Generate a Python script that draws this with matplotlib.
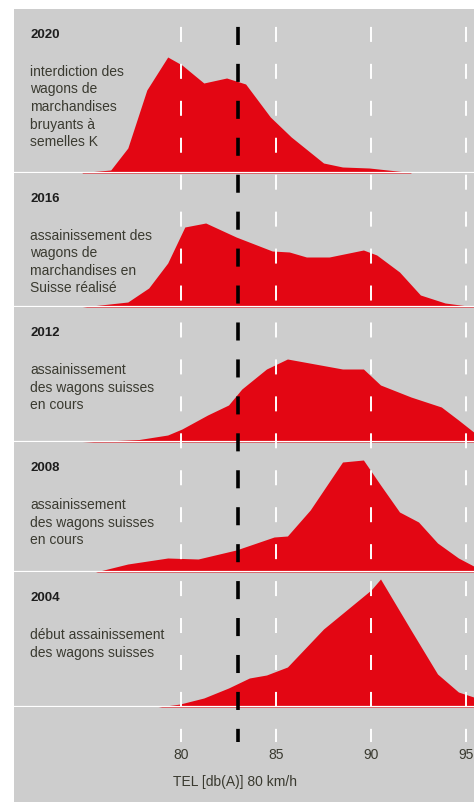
import numpy as np
import matplotlib.pyplot as plt

plt.rcParams['font.family'] = ['Liberation Sans', 'DejaVu Sans']
plt.rcParams['lines.scale_dashes'] = False

# distributions of TEL values per year (x in dB(A), y = relative share)
years = ['2020', '2016', '2012', '2008', '2004']
descriptions = [
    ['interdiction des', 'wagons de', 'marchandises', 'bruyants à', 'semelles K'],
    ['assainissement des', 'wagons de', 'marchandises en', 'Suisse réalisé'],
    ['assainissement', 'des wagons suisses', 'en cours'],
    ['assainissement', 'des wagons suisses', 'en cours'],
    ['début assainissement', 'des wagons suisses'],
]

tel_2020 = [74.8, 76.3, 77.2, 78.2, 79.3, 80.05, 81.2, 82.4, 83.4, 84.7, 85.8, 87.5, 88.5, 89.9, 92.1]
share_2020 = [0.5, 3, 25, 83, 116, 108, 90, 95, 89, 56, 36, 10, 6, 5, 0.5]

tel_2016 = [74.8, 77.2, 78.3, 79.3, 80.2, 81.3, 82.9, 84.8, 85.7, 86.6, 87.8, 89.6, 90.3, 91.5, 92.6, 93.9, 95.1, 95.4]
share_2016 = [0, 5, 19, 44, 80, 84, 70, 56, 55, 50, 50, 57, 52, 35, 12, 4, 1, 0.5]

tel_2012 = [74.8, 77.8, 79.3, 80.05, 81.4, 82.5, 83.2, 84.5, 85.6, 88.5, 89.6, 90.5, 92.1, 93.7, 94.6, 95.4]
share_2012 = [0, 2.5, 7, 13, 27, 37, 53, 73, 83, 73, 73, 57, 45, 35, 22, 10]

tel_2008 = [75.5, 77.2, 79.3, 80.9, 82.9, 84.9, 85.6, 86.8, 88.5, 89.6, 90.5, 91.5, 92.5, 93.5, 94.6, 95.4]
share_2008 = [0, 8, 14, 13, 22, 35, 36, 62, 110, 112, 87, 60, 50, 29, 14, 6]

tel_2004 = [78.8, 79.95, 81.2, 82.5, 83.6, 84.5, 85.6, 87.5, 90.0, 90.5, 92.1, 93.5, 94.6, 95.4]
share_2004 = [0, 3, 9, 19, 29, 32, 40, 78, 117, 128, 77, 33, 15, 10]

tel = [tel_2020, tel_2016, tel_2012, tel_2008, tel_2004]
share = [share_2020, share_2016, share_2012, share_2008, share_2004]

grid_ticks = [80, 85, 90, 95]
limit = 83

W, H = 474, 802
red = '#e30613'
grey = '#cdcdcd'
txt = '#3a3a30'
xlim = (71.21, 95.42)

# panel edges in pixels (top, bottom)
edges = [(9, 173), (173, 307), (307, 442), (442, 572), (572, 707)]


def px_box(left, top, right, bottom):
    return [left / W, 1 - bottom / H, (right - left) / W, (bottom - top) / H]


fig = plt.figure(figsize=(W / 100, H / 100), dpi=100)

bg = fig.add_axes(px_box(14, 9, W, H))
bg.set_facecolor(grey)
bg.set_xticks([])
bg.set_yticks([])
for s in bg.spines.values():
    s.set_visible(False)

for i, (top, bottom) in enumerate(edges):
    ax = fig.add_axes(px_box(14, top, W, bottom))
    ax.patch.set_alpha(0)
    ax.fill_between(tel[i], share[i], 0, color=red, linewidth=0)
    ax.axhline(0, color='white', lw=1.6)
    ax.set_xlim(*xlim)
    ax.set_ylim(0, bottom - top)
    ax.axis('off')

    fig.text(30 / W, 1 - (top + 26) / H, years[i], fontsize=9.5, fontweight='bold',
             color='#1e1e1e', va='center', ha='left')
    for j, line in enumerate(descriptions[i]):
        fig.text(30 / W, 1 - (top + 63 + 17.5 * j) / H, line, fontsize=10,
                 color=txt, va='center', ha='left')

# vertical reference lines over all panels
ov = fig.add_axes(px_box(14, 9, W, 742))
ov.patch.set_alpha(0)
ov.set_xlim(*xlim)
ov.set_ylim(0, 1)
ov.axis('off')
for t in grid_ticks:
    ov.plot([t, t], [1, 0], color='white', lw=1.4, linestyle=(13.7, (10.8, 15.8)))
ov.plot([limit, limit], [1, 0], color='black', lw=2.6, linestyle=(13.7, (13.0, 13.6)))

# x axis labels
axb = fig.add_axes(px_box(14, 707, W, H))
axb.patch.set_alpha(0)
axb.set_xlim(*xlim)
axb.set_ylim(H, 707)
axb.axis('off')
for t in grid_ticks:
    axb.text(t, 755, str(t), ha='center', va='center', fontsize=10, color=txt)
axb.text(79.6, 782, 'TEL [db(A)] 80 km/h', ha='left', va='center', fontsize=10, color=txt)

fig.savefig('out.png', dpi=100)
